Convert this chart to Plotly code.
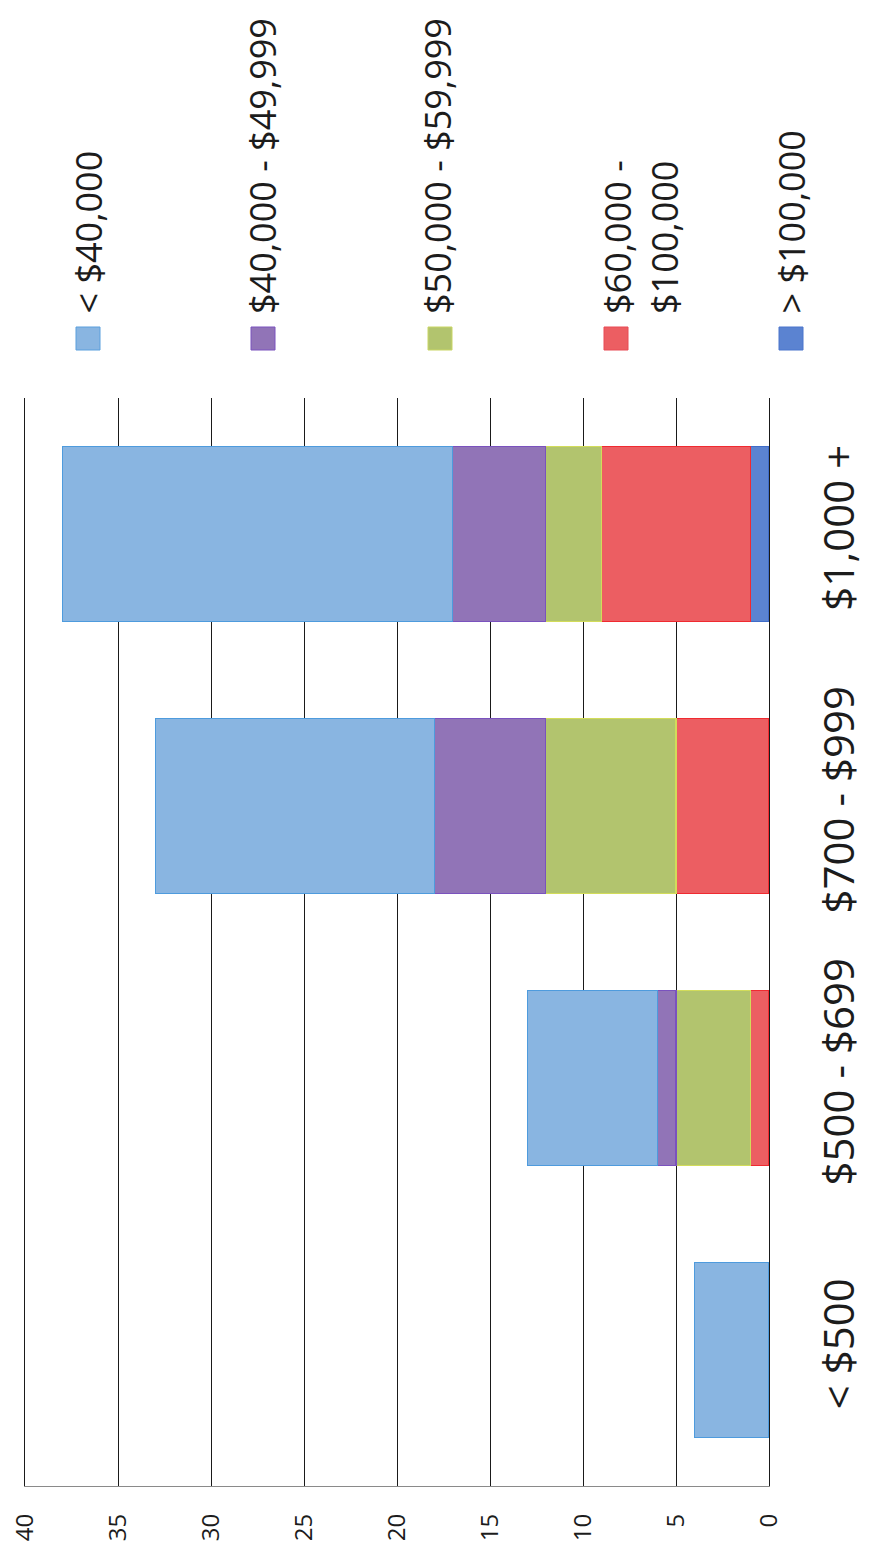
import plotly.graph_objects as go

# Monthly rent brackets (category axis) and household income groups (stacked series)
rent_brackets = ["< $500", "$500 - $699", "$700 - $999", "$1,000 +"]
income_groups = ["< $40,000", "$40,000 - $49,999", "$50,000 - $59,999",
                 "$60,000 -<br>$100,000", "> $100,000"]

under_40k = [4, 7, 15, 21]
from_40k_to_50k = [0, 1, 6, 5]
from_50k_to_60k = [0, 4, 7, 3]
from_60k_to_100k = [0, 1, 5, 8]
over_100k = [0, 0, 0, 1]

series_values = [over_100k, from_60k_to_100k, from_50k_to_60k, from_40k_to_50k, under_40k]
series_names = income_groups[::-1]

fill_colors = ["#5B83D1", "#EC5E62", "#B2C46E", "#9174B7", "#89B5E1"]
edge_colors = ["#3F6CC8", "#F02A30", "#D2DC5A", "#7A52BE", "#4E9BDD"]

tick_values = [0, 5, 10, 15, 20, 25, 30, 35, 40]
tick_labels = [str(v) for v in tick_values]

FONT = "Open Sans"
TEXT = "#1c1c1c"

fig = go.Figure()
for vals, name, fc, ec in zip(series_values, series_names, fill_colors, edge_colors):
    fig.add_trace(go.Bar(
        y=rent_brackets, x=vals, name=name, orientation="h",
        marker=dict(color=fc, line=dict(color=ec, width=1.2)),
        showlegend=False,
    ))

# Plot area in pixels
W, H = 869, 1547
L, R, T, B = 25, 100, 398, 61
pw, ph = W - L - R, H - T - B


def px_x(px):
    return (px - L) / pw


def px_y(py):
    return (H - B - py) / ph


# Rotated legend: swatches with vertical labels
legend_order = income_groups
legend_colors = ["#89B5E1", "#9174B7", "#B2C46E", "#EC5E62", "#5B83D1"]
legend_edges = ["#5A9FDD", "#7A52BE", "#C9D665", "#E84A55", "#4A74CC"]
swatch_cx = [88, 263, 440, 616, 791]
label_cx = [88, 263, 438, 641, 791]
shapes = []
annotations = []
for name, fc, ec, sx, lx in zip(legend_order, legend_colors, legend_edges, swatch_cx, label_cx):
    shapes.append(dict(
        type="rect", xref="paper", yref="paper",
        x0=px_x(sx - 12), x1=px_x(sx + 12), y0=px_y(350), y1=px_y(327),
        fillcolor=fc, line=dict(color=ec, width=1),
    ))
    annotations.append(dict(
        xref="paper", yref="paper", x=px_x(lx), y=px_y(316),
        xanchor="center", yanchor="bottom", text=name, textangle=-90,
        showarrow=False, align="left",
        font=dict(family=FONT, size=36, color=TEXT),
    ))

fig.update_layout(
    width=W, height=H,
    margin=dict(l=L, r=R, t=T, b=B, pad=0),
    barmode="stack", bargap=0.357,
    plot_bgcolor="white", paper_bgcolor="white",
    font=dict(family=FONT, color=TEXT),
    shapes=shapes, annotations=annotations,
    xaxis=dict(
        range=[40, 0], tickvals=tick_values, ticktext=tick_labels,
        tickangle=-90, tickfont=dict(family=FONT, size=24, color=TEXT),
        showgrid=True, gridcolor="#1a1a1a", gridwidth=1.3,
        zeroline=False,
        showline=True, linecolor="#8a8a8a", linewidth=1.3,
        ticks="", ticklabelstandoff=17, fixedrange=True, automargin=False,
    ),
    yaxis=dict(
        side="right", categoryorder="array", categoryarray=rent_brackets,
        tickangle=-90, tickfont=dict(family=FONT, size=42, color=TEXT),
        showgrid=False, zeroline=False,
        showline=True, mirror=True, linecolor="#1a1a1a", linewidth=1.3,
        ticks="", ticklabelstandoff=33, fixedrange=True, automargin=False,
    ),
)

fig.write_html("out.html")
